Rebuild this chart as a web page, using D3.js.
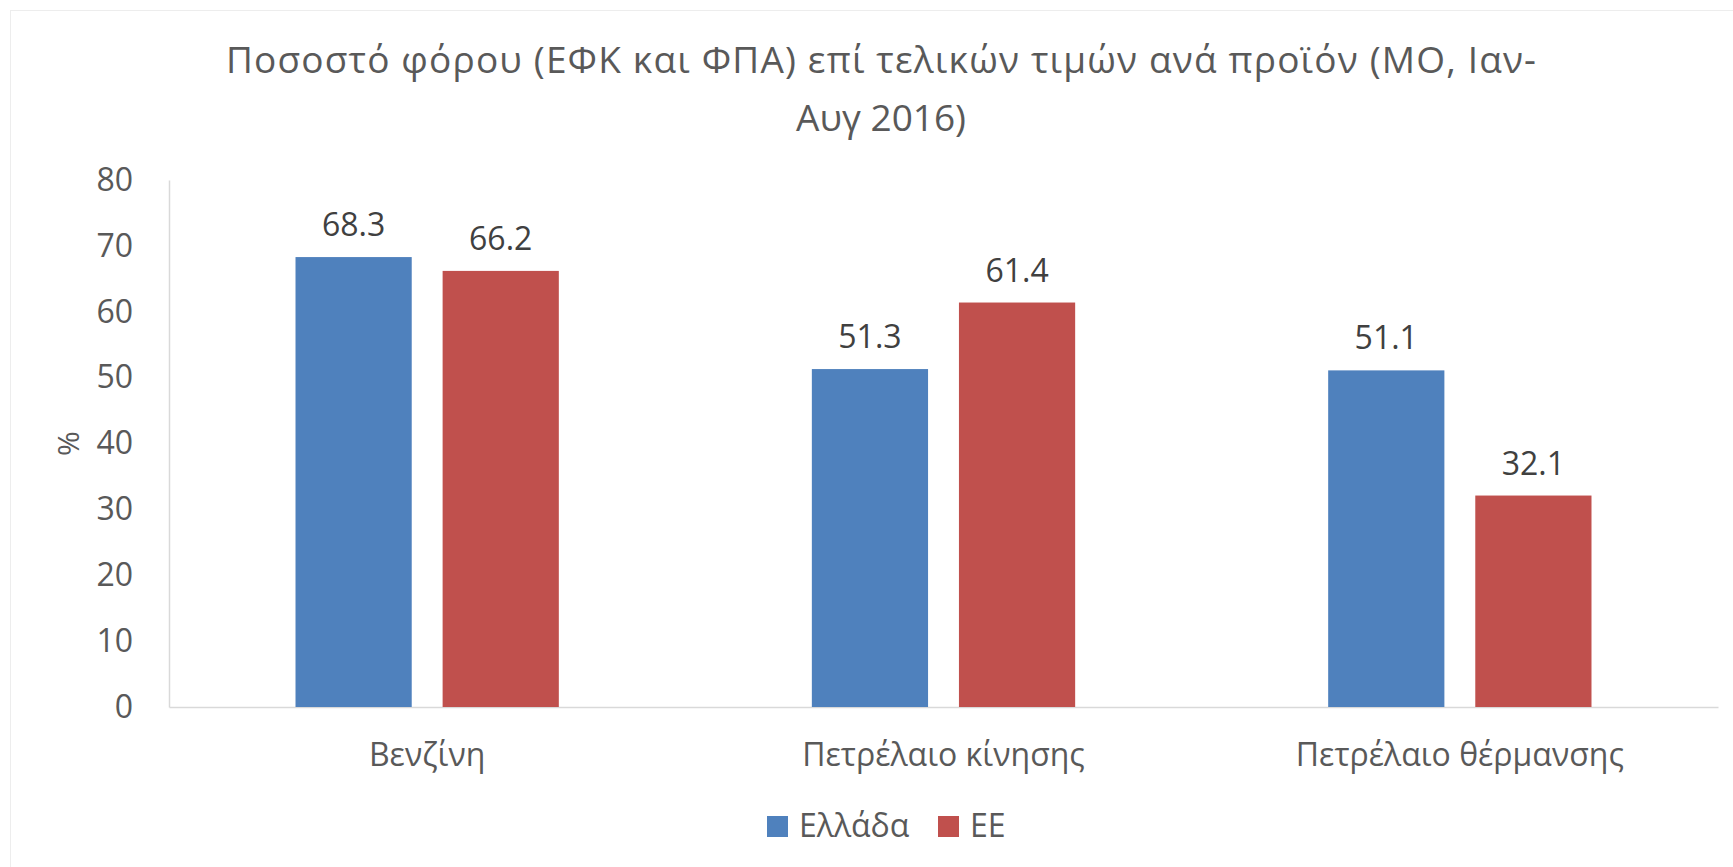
<!DOCTYPE html>
<html lang="en">
<head>
  <meta charset="UTF-8">
  <title>Chart</title>
  <style>
    body { margin: 0; background: #fff; }
    svg { display: block; font-family: "Open Sans", "Noto Sans", sans-serif; }
  </style>
</head>
<body>
<div id="chart"></div>
<script src="https://cdn.jsdelivr.net/npm/d3@7/dist/d3.min.js"></script>
<script>
  const categories = ["Βενζίνη", "Πετρέλαιο κίνησης", "Πετρέλαιο θέρμανσης"];
  const seriesNames = ["Ελλάδα", "ΕΕ"];
  const greece = [68.3, 51.3, 51.1];
  const eu = [66.2, 61.4, 32.1];
  const yTicks = [0, 10, 20, 30, 40, 50, 60, 70, 80];

  const width = 1733, height = 867;
  const margin = {top: 180, right: 15, bottom: 160, left: 169};
  const colors = ["#4F81BD", "#C0504D"];
  const textColor = "#595959";

  const svg = d3.select("#chart").append("svg")
    .attr("width", width)
    .attr("height", height);

  // outer chart border
  svg.append("rect")
    .attr("x", 10.5).attr("y", 10.5)
    .attr("width", width).attr("height", height)
    .attr("fill", "none")
    .attr("stroke", "#EDEDED");

  const xScale = d3.scaleBand()
    .domain(categories)
    .range([margin.left, width - margin.right]);

  const inner = d3.scaleBand()
    .domain(seriesNames)
    .range([0, xScale.bandwidth()])
    .paddingOuter(0.86)
    .paddingInner(0.21);

  const yScale = d3.scaleLinear()
    .domain([0, 80])
    .range([height - margin.bottom, margin.top]);

  // title
  const title = svg.append("text")
    .attr("text-anchor", "middle")
    .attr("fill", textColor)
    .style("font-family", "'Open Sans', sans-serif")
    .style("font-size", "37px");
  title.append("tspan").attr("x", 881).attr("y", 73)
    .attr("textLength", 1310)
    .attr("lengthAdjust", "spacing")
    .text("Ποσοστό φόρου (ΕΦΚ και ΦΠΑ) επί τελικών τιμών ανά προϊόν (ΜΟ, Ιαν-");
  title.append("tspan").attr("x", 881).attr("y", 131)
    .attr("textLength", 170)
    .attr("lengthAdjust", "spacing")
    .text("Αυγ 2016)");

  // y axis
  const yAxis = svg.append("g")
    .attr("transform", "translate(" + margin.left + ",0)")
    .call(d3.axisLeft(yScale).tickValues(yTicks).tickSize(0).tickPadding(36));
  yAxis.select(".domain").attr("stroke", "#D9D9D9").attr("stroke-width", 1.5);
  yAxis.selectAll("text")
    .attr("fill", textColor)
    .style("font-size", "32px")
    .style("font-family", "'Open Sans', sans-serif");

  // x axis
  const xAxis = svg.append("g")
    .attr("transform", "translate(0," + yScale(0) + ")")
    .call(d3.axisBottom(xScale).tickSize(0).tickPadding(36));
  xAxis.select(".domain").attr("stroke", "#D9D9D9").attr("stroke-width", 1.5);
  xAxis.selectAll("text")
    .attr("fill", textColor)
    .style("font-size", "32px")
    .style("font-family", "'Open Sans', sans-serif");

  svg.append("text")
    .attr("transform", "translate(68," + yScale(40) + ") rotate(-90)")
    .attr("text-anchor", "middle")
    .attr("dy", "0.35em")
    .attr("fill", textColor)
    .style("font-size", "30px")
    .text("%");

  const rows = categories.map((c, i) => ({cat: c, values: [greece[i], eu[i]]}));

  const groups = svg.selectAll(".group")
    .data(rows)
    .enter().append("g")
    .attr("class", "group")
    .attr("transform", d => "translate(" + xScale(d.cat) + ",0)");

  groups.selectAll("rect")
    .data(d => d.values.map((v, j) => ({name: seriesNames[j], value: v, j: j})))
    .enter().append("rect")
    .attr("x", d => inner(d.name))
    .attr("y", d => yScale(d.value))
    .attr("width", inner.bandwidth())
    .attr("height", d => yScale(0) - yScale(d.value))
    .attr("fill", d => colors[d.j]);

  groups.selectAll(".label")
    .data(d => d.values.map((v, j) => ({name: seriesNames[j], value: v})))
    .enter().append("text")
    .attr("class", "label")
    .attr("x", d => inner(d.name) + inner.bandwidth() / 2)
    .attr("y", d => yScale(d.value) - 21)
    .attr("text-anchor", "middle")
    .attr("fill", "#404040")
    .style("font-size", "32px")
    .text(d => d.value.toFixed(1));

  // legend
  const legendX = [767, 938];
  const legend = svg.selectAll(".legend")
    .data(seriesNames)
    .enter().append("g")
    .attr("class", "legend")
    .attr("transform", (d, i) => "translate(" + legendX[i] + ",816)");
  legend.append("rect")
    .attr("width", 21).attr("height", 21)
    .attr("fill", (d, i) => colors[i]);
  legend.append("text")
    .attr("x", 32).attr("y", 21)
    .attr("fill", textColor)
    .style("font-size", "32px")
    .text(d => d);
</script>
</body>
</html>
